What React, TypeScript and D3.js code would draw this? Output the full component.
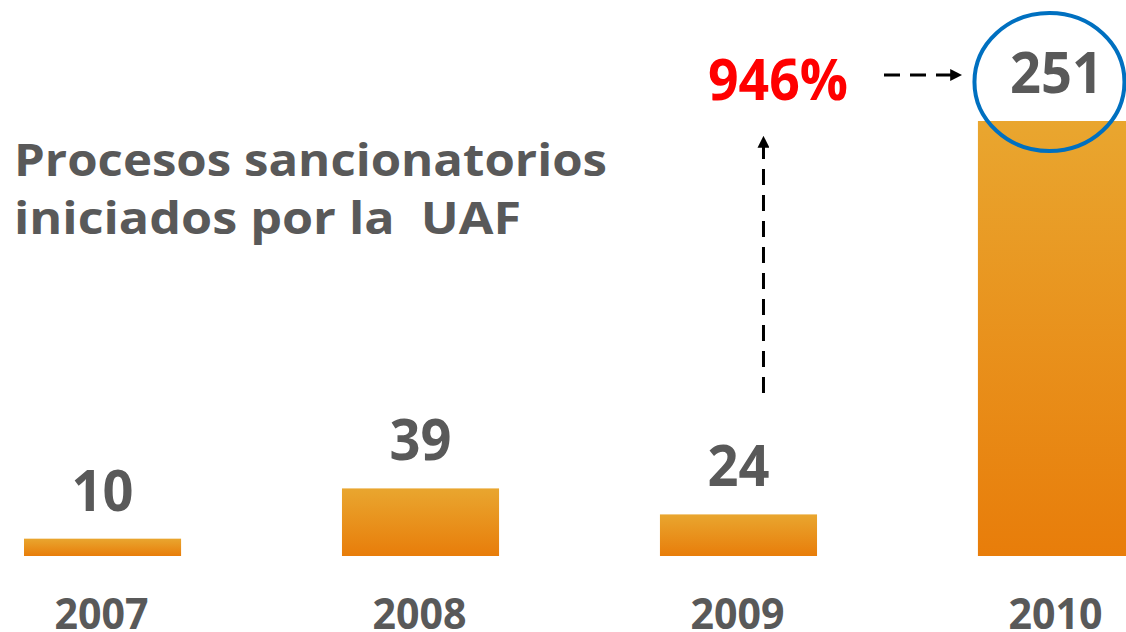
import React from "react";
import * as d3 from "d3";

const YEARS = ["2007", "2008", "2009", "2010"];
const VALUES = [10, 39, 24, 251];
const TITLE_LINES = ["Procesos sancionatorios", "iniciados por la  UAF"];

const W = 1126;
const H = 632;
const BASE = 556;
const GREY = "#595959";
const FONT = "'Open Sans', 'DejaVu Sans', sans-serif";

export default function App() {
  const x = d3
    .scaleBand<string>()
    .domain(YEARS)
    .range([24, 1135])
    .paddingInner(0.506)
    .paddingOuter(0);

  const y = d3.scaleLinear().domain([0, 251]).range([BASE, 121]);

  const growth = Math.round(((VALUES[3] - VALUES[2]) / VALUES[2]) * 100);
  const cx = (k: string) => (x(k) as number) + x.bandwidth() / 2;

  const c09 = cx("2009");
  const c10 = cx("2010");

  return (
    <svg
      width={W}
      height={H}
      style={{ position: "absolute", top: 0, left: 0, background: "#fff" }}
      fontFamily={FONT}
      fontWeight="bold"
    >
      <defs>
        <linearGradient id="barGrad" x1="0" y1="0" x2="0" y2="1">
          <stop offset="0%" stopColor="#E9A62F" />
          <stop offset="100%" stopColor="#E87D0A" />
        </linearGradient>
        <marker id="arr" viewBox="0 0 10 10" refX="9" refY="5" markerWidth="4" markerHeight="4" orient="auto">
          <path d="M0,0 L10,5 L0,10 z" fill="#000" />
        </marker>
      </defs>

      {/* title */}
      <text x={14} y={176} fontSize={44} fill={GREY} textLength={593} lengthAdjust="spacingAndGlyphs">
        {TITLE_LINES[0]}
      </text>
      <text
        x={14}
        y={234}
        fontSize={44}
        fill={GREY}
        textLength={507}
        lengthAdjust="spacingAndGlyphs"
        style={{ whiteSpace: "pre" }}
      >
        {TITLE_LINES[1]}
      </text>

      {/* bars */}
      {YEARS.map((yr, i) => (
        <rect
          key={yr}
          x={x(yr)}
          y={y(VALUES[i])}
          width={x.bandwidth()}
          height={BASE - y(VALUES[i])}
          fill="url(#barGrad)"
        />
      ))}

      {/* value labels */}
      {YEARS.map((yr, i) => (
        <text
          key={"v" + yr}
          x={cx(yr)}
          y={y(VALUES[i]) - 28}
          fontSize={58}
          fill={GREY}
          textAnchor="middle"
          textLength={String(VALUES[i]).length * 31}
          lengthAdjust="spacingAndGlyphs"
        >
          {VALUES[i]}
        </text>
      ))}

      {/* year labels */}
      {YEARS.map((yr) => (
        <text
          key={"y" + yr}
          x={cx(yr) - 1}
          y={629}
          fontSize={43}
          fill={GREY}
          textAnchor="middle"
          textLength={94}
          lengthAdjust="spacingAndGlyphs"
        >
          {yr}
        </text>
      ))}

      {/* growth annotation */}
      <text
        x={778}
        y={100}
        fontSize={58}
        fill="#FF0000"
        textAnchor="middle"
        textLength={140}
        lengthAdjust="spacingAndGlyphs"
      >
        {growth}%
      </text>

      <line
        x1={c09 + 25}
        y1={393}
        x2={c09 + 25}
        y2={137}
        stroke="#000"
        strokeWidth={3}
        strokeDasharray="16 10"
        markerEnd="url(#arr)"
      />
      <line
        x1={884}
        y1={75}
        x2={961}
        y2={75}
        stroke="#000"
        strokeWidth={3}
        strokeDasharray="16 10"
        markerEnd="url(#arr)"
      />

      <ellipse cx={c10 - 7} cy={82} rx={75} ry={69} fill="none" stroke="#0070C0" strokeWidth={4} />
    </svg>
  );
}
